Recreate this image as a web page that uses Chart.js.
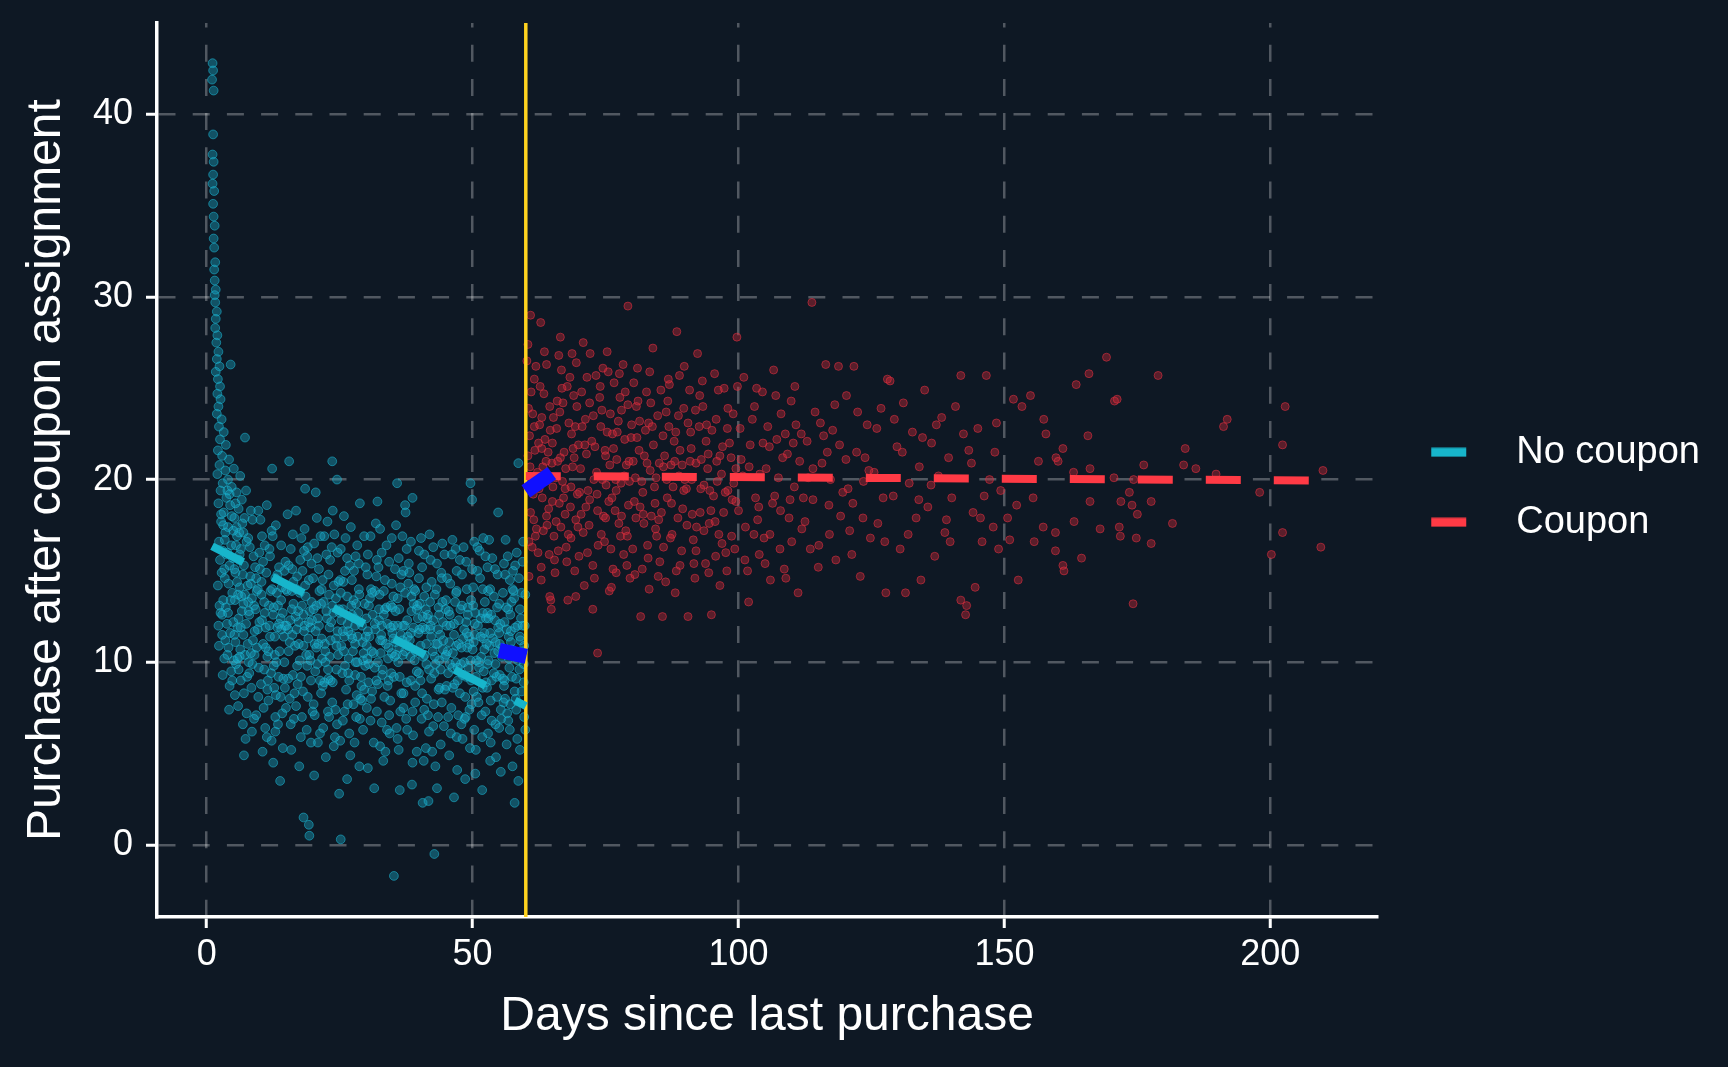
<!DOCTYPE html>
<html>
<head>
<meta charset="utf-8">
<title>Coupon discontinuity</title>
<script src="https://cdn.jsdelivr.net/npm/chart.js@4.4.1/dist/chart.umd.min.js"></script>
<style>
  html, body { margin: 0; padding: 0; background: #0e1824; }
  #wrap { width: 1728px; height: 1067px; }
</style>
</head>
<body>
<div id="wrap"><canvas id="rdd"></canvas></div>
<script>
// coupon is assigned from this many days on
var cutoff = 60;
var xTicks = [0, 50, 100, 150, 200];
var yTicks = [0, 10, 20, 30, 40];
var seriesNames = ['No coupon', 'Coupon'];

// [days since last purchase, purchase after coupon assignment]
var noCouponPoints = [
  [1.1,42.8],[1.2,42.4],[1.0,41.9],[1.3,41.3],[1.2,38.9],[1.1,37.8],[1.3,37.4],[1.2,36.7],[1.1,36.2],[1.4,35.8],
  [1.2,35.1],[1.3,34.4],[1.5,33.9],[1.3,33.2],[1.4,32.7],[1.6,31.9],[1.4,31.5],[1.5,30.9],[1.7,30.4],[1.5,30.1],
  [1.6,29.7],[1.9,29.2],[1.7,28.8],[1.6,28.3],[2.0,27.9],[1.8,27.5],[2.2,27.0],[1.9,26.6],[2.4,26.2],[1.7,25.9],
  [2.1,25.5],[2.5,25.1],[2.0,24.7],[2.6,24.4],[2.2,24.0],[1.9,23.6],[2.8,23.3],[2.3,22.9],[3.2,22.6],[2.5,22.2],
  [3.6,21.9],[2.1,21.6],[4.5,26.3],[7.2,22.3],
  [2.9,21.3],[4.2,21.1],[2.4,20.8],[3.5,20.5],[5.1,20.6],[2.0,20.3],[4.0,20.0],[6.3,20.2],[3.0,19.8],[4.7,19.6],
  [2.6,19.4],[5.6,19.3],[3.7,19.0],[7.4,19.4],[2.2,18.7],[4.4,18.6],[6.0,18.4],[3.2,18.2],[5.2,17.9],[8.3,18.3],
  [2.7,17.7],[4.0,17.4],[6.7,17.6],[3.5,17.1],[5.7,16.9],[2.3,16.6],[4.6,16.4],[7.8,16.8],[3.0,16.1],[6.2,15.9],
  [2.5,15.6],[4.3,15.3],[5.4,14.9],[3.4,14.6],[2.1,14.2],[4.8,13.8],[3.1,13.4],[2.6,12.7],[3.8,12.1],[2.9,11.5],
  [4.1,10.8],[3.3,10.2],[4.6,9.5],[4.3,8.7],[4.2,7.4],[5.3,8.2],[7.0,4.9],
  [5.3,13.4],[8.7,11.2],[6.1,15.6],[9.4,13.9],[7.2,10.4],[5.8,11.9],[8.1,16.3],[6.6,12.8],[9.8,9.7],[7.7,14.2],
  [5.5,9.9],[8.4,8.6],[6.9,17.1],[9.1,15.2],[7.4,12.1],[5.9,7.6],[8.9,13.1],[6.3,10.7],[9.6,11.8],[7.0,8.3],
  [5.2,15.1],[8.2,14.7],[6.5,13.6],[9.3,7.1],[7.9,10.0],[5.6,17.4],[8.6,17.8],[6.8,6.6],[9.9,16.0],[7.5,16.6],
  [6.0,12.4],[8.0,12.6],[9.0,10.4],[7.3,5.8],[5.4,11.1],[9.7,18.3],[6.4,9.0],[8.5,6.2],[7.8,13.3],[6.2,14.1],
  [10.4,12.3],[13.7,10.6],[11.2,14.9],[14.3,12.7],[12.1,9.4],[10.9,16.4],[13.2,13.8],[11.6,7.9],[14.8,15.5],[12.8,11.4],
  [10.2,8.8],[13.9,8.1],[11.8,12.0],[14.6,10.0],[12.4,16.9],[10.6,11.0],[13.4,6.6],[11.4,10.3],[14.1,14.1],[12.6,13.0],
  [10.3,14.4],[13.0,17.5],[11.0,6.4],[14.9,7.5],[12.2,5.7],[10.8,13.3],[13.6,15.2],[11.9,15.8],[14.4,9.1],[12.9,7.0],
  [10.1,17.8],[13.3,11.9],[11.5,9.0],[14.7,12.0],[12.3,20.6],[13.8,3.5],[12.5,4.5],[10.5,5.1],[11.3,18.6],[12.7,8.6],
  [15.3,11.8],[18.6,13.6],[16.2,9.3],[19.1,11.3],[17.0,14.7],[15.8,16.2],[18.1,8.4],[16.7,12.5],[19.7,15.4],[17.5,10.1],
  [15.1,13.9],[18.9,9.8],[16.4,6.9],[19.4,12.8],[17.8,16.8],[15.6,8.0],[18.3,11.7],[16.9,14.0],[19.9,7.3],[17.3,12.2],
  [15.4,10.6],[18.4,17.3],[16.1,15.1],[19.5,10.1],[17.7,5.9],[15.9,5.2],[18.8,6.3],[16.6,10.9],[19.2,14.5],[17.1,8.8],
  [15.2,18.1],[16.8,18.3],[18.0,15.0],[15.5,21.0],[18.5,19.5],[18.2,1.5],[19.2,1.1],[19.3,0.5],[17.4,4.3],[19.8,12.3],
  [20.3,11.0],[23.8,12.7],[21.2,13.9],[24.4,9.6],[22.1,8.9],[20.8,15.7],[23.1,11.9],[21.7,10.2],[24.8,14.4],[22.6,12.4],
  [20.1,7.7],[23.5,16.3],[21.4,16.9],[24.2,7.4],[22.9,14.8],[20.6,13.1],[23.3,9.0],[21.9,6.4],[24.6,11.7],[22.3,10.6],
  [20.4,9.5],[23.9,5.4],[21.1,12.0],[24.0,17.0],[22.7,17.7],[20.9,5.6],[23.6,7.8],[21.8,14.5],[24.9,12.9],[22.4,4.8],
  [20.2,3.8],[20.5,19.3],[23.7,18.3],[23.6,21.0],[24.5,20.0],[24.9,2.8],[21.5,8.3],[22.0,13.3],[20.7,17.9],[23.2,15.6],
  [25.6,12.9],[29.1,8.7],[27.3,14.5],[26.0,9.8],[28.4,11.4],[25.2,16.2],[29.7,13.2],[26.8,6.1],[28.0,15.8],[27.5,10.6],
  [25.9,7.3],[29.4,10.1],[26.4,13.6],[28.8,6.9],[27.1,17.4],[25.3,10.9],[29.9,15.2],[26.6,11.7],[28.2,8.2],[27.8,12.4],
  [25.7,14.4],[29.2,12.0],[26.2,8.5],[28.6,14.0],[27.0,4.9],[25.1,5.7],[29.6,16.9],[26.9,15.3],[28.3,10.0],[27.6,7.7],
  [26.4,3.6],[28.7,4.3],[25.2,0.3],[28.8,18.7],[25.8,18.0],[29.0,9.2],[27.2,11.5],[26.1,16.8],[28.5,12.7],[27.9,9.3],
  [30.5,13.1],[34.2,10.8],[32.0,15.6],[31.1,8.4],[33.5,12.9],[30.2,10.2],[34.8,14.3],[31.7,11.8],[32.9,6.7],[33.8,16.4],
  [30.8,16.9],[31.4,5.6],[32.4,12.3],[34.5,7.9],[33.1,9.6],[30.1,7.5],[31.9,14.7],[32.7,10.5],[34.0,12.1],[33.3,13.9],
  [30.6,11.4],[31.2,12.6],[32.2,8.8],[34.7,9.4],[33.6,5.1],[30.9,14.0],[31.6,9.7],[32.6,17.3],[34.3,15.5],[33.0,11.2],
  [30.3,4.2],[31.5,3.1],[32.1,18.8],[35.2,-1.7],[30.4,8.9],[34.9,11.6],[31.8,17.6],[33.9,6.3],[32.5,13.7],[33.2,4.6],
  [35.9,12.0],[39.5,9.5],[37.3,13.8],[36.4,7.3],[38.2,11.2],[35.4,15.1],[39.0,14.0],[36.9,10.4],[38.8,6.0],[37.6,16.2],
  [35.2,9.2],[38.5,12.8],[36.2,12.9],[39.8,11.6],[37.0,8.3],[35.7,6.4],[38.0,15.4],[36.6,14.8],[39.2,7.8],[37.8,10.9],
  [35.5,11.1],[39.6,13.1],[36.1,5.2],[38.4,9.0],[37.2,12.0],[35.1,13.6],[39.9,16.1],[36.8,16.9],[38.7,4.5],[37.5,6.9],
  [35.8,19.8],[38.7,19.0],[37.3,18.6],[37.4,18.2],[38.6,3.3],[36.3,3.0],[36.0,10.0],[39.3,10.6],[37.9,14.3],[35.6,17.5],
  [40.6,11.9],[44.4,12.2],[42.2,9.1],[41.3,14.1],[43.5,7.0],[40.2,9.0],[44.8,10.3],[41.8,6.2],[42.9,13.7],[43.1,11.0],
  [40.9,15.9],[41.0,10.4],[42.6,16.3],[44.1,14.9],[43.8,8.6],[40.4,6.9],[41.6,12.6],[42.4,5.1],[44.6,6.5],[43.3,15.4],
  [40.1,13.2],[41.4,8.0],[42.0,11.8],[44.0,9.6],[43.6,13.0],[40.8,4.6],[41.9,17.0],[42.7,7.7],[44.9,12.9],[43.0,4.3],
  [40.6,2.3],[41.7,2.4],[42.8,-0.5],[43.3,3.1],[40.3,16.8],[44.3,16.5],[41.2,5.3],[42.5,10.6],[43.9,11.5],[41.5,12.4],
  [45.7,12.6],[49.2,9.7],[47.0,13.9],[46.3,8.6],[48.4,11.8],[45.2,14.6],[49.7,13.4],[46.9,10.9],[48.1,5.8],[47.6,15.6],
  [45.4,9.4],[48.8,12.2],[46.5,11.5],[49.4,7.4],[47.3,7.1],[45.9,6.1],[48.0,14.8],[46.1,15.9],[49.0,10.8],[47.8,9.9],
  [45.3,10.6],[49.9,15.1],[46.7,13.3],[48.6,8.1],[47.4,11.0],[45.6,4.9],[49.5,5.3],[46.2,16.7],[48.3,16.3],[47.1,4.1],
  [46.5,2.6],[49.9,18.9],[49.6,19.8],[48.6,3.6],[45.1,12.0],[48.9,14.0],[47.2,9.0],[46.0,7.5],[49.3,11.4],[47.9,6.6],
  [50.4,11.5],[54.5,9.2],[52.3,13.3],[51.1,7.8],[53.2,10.9],[50.9,15.0],[54.0,13.6],[51.6,10.3],[52.9,6.1],[53.7,15.7],
  [50.2,8.4],[51.9,12.7],[52.6,11.0],[54.8,11.9],[53.4,7.9],[50.6,5.2],[51.4,14.6],[52.1,9.5],[54.3,6.6],[53.0,12.4],
  [50.1,13.1],[51.3,16.1],[52.8,15.2],[54.1,10.5],[53.6,9.0],[50.7,10.1],[51.8,5.9],[52.4,7.3],[54.7,14.8],[53.3,4.6],
  [51.8,3.0],[54.8,18.2],[53.1,16.7],[50.5,3.9],[52.0,16.8],[54.4,4.8],[51.0,12.0],[53.8,11.3],[50.3,16.6],[52.7,8.6],
  [55.6,10.8],[59.1,12.4],[57.4,9.2],[56.3,13.0],[58.2,7.4],[55.2,12.1],[59.6,8.9],[56.8,11.4],[58.7,14.6],[57.0,6.3],
  [55.9,15.4],[58.0,10.5],[56.1,8.0],[59.3,10.2],[57.7,13.9],[55.4,6.9],[58.5,12.0],[56.6,15.8],[59.9,13.7],[57.2,11.1],
  [55.1,9.3],[58.9,5.2],[56.4,5.5],[59.4,15.5],[57.9,8.4],[55.7,13.8],[58.3,16.0],[56.9,9.7],[59.7,7.0],[57.5,4.3],
  [57.9,2.3],[58.6,20.9],[55.3,4.0],[56.2,16.7],[58.6,3.5],[57.1,12.6],[59.0,11.2],[55.8,7.8],[57.6,15.0],[56.7,6.8],
  [3.9,16.0],[2.8,14.9],[4.9,15.7],[3.6,13.0],[5.0,12.2],[2.4,13.1],[4.4,11.6],[3.5,11.2],[5.5,16.4],[6.6,18.9],
  [4.7,18.0],[3.9,19.4],[6.1,17.1],[7.0,15.3],[5.9,13.7],[6.9,11.5],[7.6,9.2],[8.8,15.8],[9.2,12.9],[8.3,10.5],
  [11.7,13.1],[10.8,9.6],[12.5,12.6],[13.5,9.2],[14.5,11.4],[11.1,11.9],[12.9,14.6],[14.0,13.4],[10.7,7.5],[13.1,10.0],
  [16.0,12.9],[17.3,11.0],[18.7,10.4],[15.7,12.3],[16.5,8.3],[17.9,13.1],[19.6,9.0],[18.2,12.6],[16.3,14.4],[19.0,16.3],
  [21.6,11.3],[22.8,9.6],[24.3,13.5],[20.6,10.8],[23.4,12.2],[21.3,9.0],[22.5,15.9],[24.7,10.4],[20.0,14.6],[23.0,7.0],
  [26.7,10.2],[28.1,13.2],[29.3,11.1],[25.5,9.4],[27.6,13.4],[26.5,12.1],[28.9,8.0],[25.0,12.7],[27.7,15.0],[29.8,9.8],
  [31.0,10.6],[32.9,12.0],[34.1,10.2],[30.5,9.9],[33.4,8.1],[31.6,13.9],[32.2,10.0],[34.6,13.1],[30.0,12.4],[33.7,11.0],
  [36.5,11.5],[38.3,10.3],[39.7,12.4],[35.3,10.3],[37.7,12.3],[36.3,9.2],[38.9,13.2],[37.0,15.0],[35.1,12.0],[39.2,8.7],
  [41.2,12.9],[42.2,11.4],[43.7,10.1],[40.7,10.3],[42.6,12.3],[41.8,9.6],[44.5,11.2],[43.2,14.0],[40.0,11.8],[44.2,7.8],
  [46.8,10.0],[48.2,11.3],[49.6,10.1],[45.6,11.1],[47.7,12.9],[46.2,9.7],[48.8,9.2],[47.0,15.0],[45.0,13.4],[49.1,12.6],
  [51.5,11.4],[53.0,10.1],[54.2,12.3],[50.6,9.2],[52.8,12.7],[51.9,8.6],[54.6,8.1],[53.3,14.0],[50.0,10.7],[52.2,11.6],
  [56.5,10.5],[58.0,11.9],[59.5,10.6],[55.5,10.3],[57.3,13.3],[56.0,9.0],[58.8,9.6],[57.0,14.5],[55.0,11.6],[59.2,13.8],
  [2.3,10.9],[3.0,9.3],[3.7,15.9],[4.5,13.4],[5.1,10.1],[5.7,14.4],[6.4,11.9],[7.1,17.9],[7.9,12.8],[8.6,9.9],
  [9.3,14.6],[9.9,12.2],[10.6,15.5],[11.4,8.5],[12.0,13.9],[12.8,10.4],[13.6,12.1],[14.2,7.2],[14.9,14.0],[15.6,11.1],
  [16.3,13.2],[17.0,9.8],[17.6,15.6],[18.4,12.0],[19.0,8.1],[19.7,13.3],[20.5,11.7],[21.1,15.1],[21.8,8.7],[22.5,12.8],
  [23.1,10.3],[23.9,14.2],[24.5,6.6],[25.3,12.3],[26.0,15.0],[26.8,9.0],[27.4,11.3],[28.1,7.0],[28.7,13.7],[29.5,10.5],
  [30.2,14.8],[30.9,8.0],[31.6,12.1],[32.3,15.2],[33.0,9.3],[33.8,13.0],[34.4,6.1],[35.1,11.3],[35.9,13.5],[36.6,8.3],
  [37.3,10.6],[38.1,14.9],[38.7,7.3],[39.5,12.9],[40.2,10.9],[40.9,13.6],[41.6,7.1],[42.3,14.4],[43.0,9.9],[43.7,12.6],
  [44.4,10.7],[45.1,8.7],[45.8,14.3],[46.5,12.1],[47.2,9.7],[48.0,13.1],[48.7,7.0],[49.4,11.0],[50.1,14.1],[50.8,8.1],
  [51.5,12.4],[52.2,10.7],[52.9,13.9],[53.6,6.8],[54.3,11.1],[55.0,13.2],[55.7,9.1],[56.4,11.8],[57.1,7.7],[57.8,13.5],
  [58.5,10.1],[59.2,8.4],[59.8,12.0],
  [2.7,18.1],[3.3,15.1],[4.0,12.7],[4.8,9.0],[5.4,18.7],[6.2,10.3],[6.9,13.2],[7.5,7.2],[8.3,14.3],[9.0,11.7],
  [9.7,8.1],[10.3,13.7],[11.1,10.8],[11.8,16.2],[12.6,9.8],[13.3,14.8],[14.0,11.8],[14.7,8.6],[15.4,15.3],[16.1,11.5],
  [16.8,7.6],[17.5,13.8],[18.2,10.9],[18.9,15.8],[19.5,11.9],[20.3,7.1],[20.9,12.4],[21.6,14.0],[22.3,10.0],[23.0,13.7],
  [23.7,8.9],[24.3,11.3],[25.1,14.5],[25.8,10.6],[26.5,7.7],[27.2,13.1],[27.9,11.0],[28.6,15.4],[29.2,7.9],[29.9,11.4],
  [30.7,13.5],[31.4,10.5],[32.0,7.3],[32.8,11.5],[33.5,14.5],[34.2,9.0],[34.9,13.0],[35.6,10.4],[36.4,14.1],[37.0,7.5],
  [37.8,11.4],[38.5,13.6],[39.1,10.1],[39.9,14.6],[40.5,8.3],[41.3,11.0],[42.0,13.3],[42.8,9.4],[43.5,11.8],[44.2,14.6],
  [44.8,8.5],[45.5,12.8],[46.3,10.5],[46.9,13.8],[47.6,8.3],[48.4,10.0],[49.1,13.0],[49.8,7.7],[50.5,12.7],[51.2,10.0],
  [51.9,14.0],[52.5,8.9],[53.3,11.6],[54.0,9.4],[54.6,13.0],[55.3,7.4],[56.0,12.2],[56.8,10.2],[57.5,14.0],[58.2,9.1],
  [58.9,12.9],[59.6,9.9],
  [2.2,12.0],[3.4,16.7],[4.1,14.3],[5.2,11.5],[6.0,9.6],[6.8,14.8],[7.7,11.0],[8.5,13.5],[9.4,10.8],[10.0,15.1],
  [10.9,12.7],[11.6,10.6],[12.3,14.0],[13.0,8.2],[13.9,12.4],[14.6,15.0],[15.3,9.1],[16.0,13.9],[16.9,11.8],[17.7,9.2],
  [18.5,14.2],[19.3,10.4],[20.1,12.9],[20.8,9.9],[21.5,13.2],[22.2,11.0],[22.9,9.1],[23.6,13.1],[24.4,10.9],[25.2,13.8],
  [25.9,11.4],[26.6,9.4],[27.3,12.6],[28.0,10.0],[28.8,12.2],[29.6,8.5],[30.3,11.7],[31.1,13.8],[31.9,9.0],[32.6,11.2],
  [33.3,12.6],[34.0,8.7],[34.8,10.5],[35.5,12.8],[36.2,10.8],[36.9,12.0],[37.6,8.9],[38.4,11.6],[39.2,13.9],[39.9,9.4],
  [40.6,12.5],[41.3,9.9],[42.1,12.0],[42.9,10.3],[43.6,8.5],[44.3,13.3],[45.0,10.4],[45.8,12.0],[46.6,8.8],[47.4,12.3],
  [48.1,9.3],[48.9,11.6],[49.7,9.0],[50.4,12.1],[51.2,9.7],[52.0,11.3],[52.8,9.9],[53.5,12.6],[54.3,9.9],[55.1,11.0],
  [55.9,8.7],[56.7,12.9],[57.4,10.7],[58.1,8.0],[58.9,11.4],[59.7,10.9],
  [3.1,17.5],[4.3,19.2],[5.0,17.2],[6.4,16.2],[2.9,12.6],[3.9,10.4],[5.8,10.2],[7.2,13.7],[8.0,9.4],[9.6,14.0],
  [11.9,11.4],[13.4,13.1],[15.0,12.0],[17.2,12.8],[19.2,12.2],[21.0,11.0],[23.3,11.2],[25.6,11.7],[27.9,12.0],[30.1,10.9],
  [32.4,12.9],[34.6,11.9],[36.8,11.2],[38.9,11.9],[41.1,11.8],[43.4,11.0],[45.7,9.9],[47.9,10.8],[50.2,11.1],[52.5,12.4],
  [54.8,10.6],[57.2,11.7],[59.4,12.0],
  [8.9,6.9],[11.3,5.9],[12.9,6.2],[14.3,5.3],[15.8,6.6],[17.9,7.0],[19.6,5.6],[21.3,6.1],[22.8,7.3],[24.1,5.9],
  [25.6,6.8],[27.8,5.6],[29.4,6.3],[30.8,6.8],[32.6,5.4],[34.3,7.1],[35.9,5.8],[37.7,6.3],[39.5,5.1],[40.9,7.4],
  [42.6,6.5],[44.0,5.5],[45.4,7.0],[47.0,5.9],[48.5,6.9],[50.3,6.3],[51.7,7.1],[53.4,5.6],[55.0,6.4],[56.5,7.2],
  [58.4,5.8],[59.9,6.3],
  [10.4,16.9],[12.2,17.2],[14.0,16.4],[16.2,17.0],[18.3,16.1],[20.2,16.5],[22.1,16.9],[24.6,16.0],[26.4,15.7],[28.3,16.4],
  [30.3,15.9],[32.9,16.0],[34.8,16.8],[36.1,15.7],[38.4,16.6],[40.5,15.2],[42.1,15.6],[44.7,15.9],[46.8,16.2],[48.8,15.5],
  [50.9,16.3],[52.4,15.8],[54.2,15.1],[56.1,14.8],[58.0,15.3],[59.5,16.6]
];

var couponPoints = [
  [60.4,21.3],[60.9,18.2],[61.3,23.6],[61.8,16.9],[62.2,20.4],[62.7,25.1],[63.1,19.0],[63.6,22.2],[64.0,17.5],[64.5,24.0],
  [64.9,20.9],[65.4,15.6],[65.8,22.8],[66.3,18.7],[66.7,26.0],[67.2,21.5],[67.6,16.3],[68.1,23.1],[68.5,19.6],[69.0,24.6],
  [69.4,17.8],[69.9,21.9],[60.2,26.5],[60.6,14.7],[61.1,20.0],[61.6,22.9],[62.0,17.3],[62.5,19.5],[62.9,15.2],[63.4,24.7],
  [63.8,21.0],[64.3,18.4],[64.7,13.4],[65.2,23.4],[65.6,20.1],[66.1,16.1],[66.5,21.2],[67.0,24.2],[67.4,18.1],[67.9,13.4],
  [68.3,25.6],[68.8,20.7],[69.2,15.0],[69.7,19.2],[60.9,29.0],[62.8,28.6],[66.5,27.8],[64.5,13.6],[61.5,17.8],[63.0,21.7],
  [65.0,18.8],[66.9,19.9],[68.6,22.5],[69.5,26.4],[60.5,23.9],
  [70.3,20.6],[70.8,17.1],[71.2,23.3],[71.7,19.4],[72.1,26.9],[72.6,15.3],[73.0,21.8],[73.5,18.3],[73.9,24.5],[74.4,20.0],
  [74.8,16.6],[75.3,22.6],[75.7,13.9],[76.2,19.0],[76.6,25.3],[77.1,21.1],[77.5,17.6],[78.0,23.8],[78.4,15.9],[78.9,20.8],
  [79.3,18.6],[79.8,22.3],[70.5,24.8],[71.0,14.2],[71.4,21.4],[72.0,18.9],[72.6,12.9],[73.2,25.7],[73.5,10.5],[74.1,22.9],
  [74.6,18.0],[75.1,19.7],[75.5,25.9],[76.0,16.2],[76.5,21.7],[77.0,14.9],[77.4,23.2],[77.9,19.8],[78.3,26.3],[78.8,17.2],
  [79.2,24.1],[79.6,14.6],[76.8,18.3],[79.2,29.5],
  [80.2,21.0],[80.7,17.9],[81.1,24.3],[81.6,12.5],[82.0,19.3],[82.5,22.7],[82.9,16.4],[83.4,20.5],[83.9,27.2],[84.3,18.7],
  [84.8,23.5],[85.2,15.5],[85.7,12.5],[86.1,21.3],[86.6,19.0],[87.0,25.2],[87.5,17.0],[87.9,22.1],[88.4,28.1],[88.8,20.2],
  [89.3,16.1],[89.7,23.9],[80.5,14.8],[81.0,26.1],[81.8,19.9],[82.7,24.8],[83.2,14.0],[84.0,21.9],[84.6,16.9],[85.4,24.9],
  [86.3,14.4],[86.9,22.9],[87.7,19.6],[88.1,13.8],[88.9,25.7],[89.5,18.4],[80.9,22.3],[83.6,18.0],[85.9,20.7],[89.0,21.6],
  [90.2,19.5],[90.5,12.5],[91.0,22.6],[91.5,16.7],[92.0,20.9],[92.3,26.9],[92.8,18.2],[93.3,24.0],[93.8,15.4],[94.3,21.4],
  [94.9,12.6],[95.3,19.1],[95.8,23.3],[96.3,17.0],[96.8,20.3],[97.3,25.0],[97.8,15.0],[98.3,22.0],[98.8,18.9],[99.3,16.2],
  [99.7,27.8],[90.8,24.9],[91.8,14.6],[92.6,22.9],[93.5,19.7],[94.5,17.6],[95.5,25.8],[96.5,14.2],[97.0,21.8],[98.0,19.4],
  [99.0,23.6],[99.5,20.6],[91.3,18.1],[94.0,23.0],[96.0,19.9],
  [100.5,21.1],[101.3,17.4],[101.9,13.3],[102.6,23.3],[103.2,19.0],[103.9,15.9],[104.5,24.8],[105.2,20.6],[105.9,17.0],[106.6,26.0],
  [107.2,22.2],[107.9,18.3],[108.6,15.1],[109.2,21.4],[109.9,24.3],[110.5,19.6],[111.2,13.8],[111.8,22.5],[112.5,17.7],[113.1,20.1],
  [113.8,29.7],[114.4,23.7],[115.1,16.4],[115.7,20.9],[116.4,26.3],[117.0,18.6],[117.7,22.7],[118.3,15.6],[118.8,26.2],[119.6,19.3],
  [120.3,24.6],[120.9,17.2],[121.7,26.2],[122.2,21.5],[122.9,14.7],[123.5,19.9],[124.2,23.0],[124.8,16.8],[101.0,25.6],[104.0,20.3],
  [106.0,14.5],[108.0,23.6],[110.0,16.6],[114.0,18.9],[119.0,21.9],
  [125.5,20.4],[126.2,17.6],[126.8,23.9],[127.7,13.8],[128.0,25.5],[128.5,25.4],[129.1,19.1],[129.8,21.8],[130.4,16.2],[131.0,24.2],
  [131.4,13.8],[132.1,19.8],[132.7,22.6],[133.4,17.9],[134.0,20.7],[134.3,14.5],[135.0,24.9],[135.6,18.5],[136.3,22.0],[136.9,15.8],
  [137.6,20.2],[138.2,23.4],[138.8,17.1],[139.5,21.2],[140.1,19.0],[140.8,24.0],[141.8,13.4],[141.8,25.7],[142.7,12.6],[142.9,13.1],
  [143.3,21.6],[144.5,14.1],[144.1,18.2],[145.0,22.8],[145.8,16.6],[146.6,25.7],[147.2,20.0],[147.9,17.4],[148.5,23.1],[149.3,19.4],
  [150.6,17.9],[151.0,16.7],[151.7,24.4],[152.3,18.6],[152.6,14.5],[153.3,24.0],[154.9,24.6],[155.4,19.0],[155.6,16.6],[156.4,21.0],
  [157.3,17.4],[157.4,23.3],[157.8,22.5],[159.6,17.1],[159.6,16.1],[159.7,21.2],[160.1,21.0],[161.0,15.3],[161.0,21.7],[161.2,15.0],
  [163.0,20.4],[163.1,17.7],[163.5,25.2],[164.5,15.7],[165.7,22.4],[165.9,25.8],[166.1,20.6],[166.1,18.8],[168.0,17.3],[169.2,26.7],
  [170.6,20.1],[170.7,24.3],[171.2,24.4],[171.6,17.4],[171.8,16.9],[171.9,18.8],[173.5,19.3],[174.0,18.6],[174.2,13.2],[174.3,20.0],
  [174.8,16.8],[175.0,18.1],[176.2,20.8],[177.6,18.8],[177.6,16.5],[178.9,25.7],[181.6,17.6],[183.7,20.8],[184.0,21.7],[186.0,20.6],
  [189.8,20.3],[191.2,22.9],[191.9,23.3],[198.0,19.3],[200.2,15.9],[202.3,21.9],[202.3,17.1],[202.8,24.0],[209.5,16.3],[209.9,20.5],
  [60.8,20.7],[61.4,19.2],[62.4,22.0],[63.3,17.2],[64.2,21.5],[65.1,19.6],[65.9,24.3],[66.6,17.4],[67.5,20.6],[68.4,18.5],
  [69.3,22.9],[70.1,19.3],[71.6,16.0],[72.4,22.1],[73.3,20.4],[74.2,17.0],[75.0,21.3],[75.9,23.6],[76.9,20.0],[77.8,16.9],
  [78.6,22.2],[79.5,19.9],[80.4,18.8],[81.3,21.6],[82.2,17.6],[83.1,23.1],[84.5,20.1],[85.5,18.2],[86.4,23.7],[87.3,20.8],
  [88.6,17.9],[89.9,20.0],[90.9,21.0],[92.1,17.4],[93.0,21.1],[94.6,19.4],[95.6,17.7],[97.5,19.3],[98.6,21.2],[100.0,18.3],
  [102.2,21.9],[103.6,17.8],[105.5,22.9],[107.5,20.1],[109.5,17.9],[111.5,21.0],[113.5,16.2],[115.4,23.1],[117.3,20.0],[121.5,18.7],
  [123.8,21.2],[127.2,19.0],[130.8,21.5],[133.9,18.9],[137.2,23.0],[139.1,17.8],[143.8,20.9],[146.2,19.1],[148.9,16.2],[61.9,26.2],
  [60.3,19.6],[61.0,24.8],[61.7,21.6],[62.3,16.0],[63.0,23.4],[63.7,19.9],[64.4,15.9],[65.0,22.0],[65.7,17.7],[66.4,23.7],
  [67.1,19.0],[67.8,25.1],[68.5,16.8],[69.1,21.2],[69.8,17.4],[70.6,22.9],[71.3,18.5],[72.0,24.2],[72.8,20.0],[73.6,16.4],
  [74.3,23.8],[75.0,17.9],[75.8,20.8],[76.4,15.1],[77.2,22.6],[78.0,18.0],[78.7,24.8],[79.4,21.0],[80.1,16.2],[80.8,24.0],
  [81.5,18.5],[82.3,21.3],[83.0,15.7],[83.8,22.9],[84.4,17.3],[85.1,20.9],[85.9,16.3],[86.7,24.3],[87.4,18.7],[88.2,22.6],
  [89.0,15.3],[89.7,19.4],[90.5,23.1],[91.2,20.0],[92.0,16.1],[92.7,24.6],[93.5,17.2],[94.2,20.6],[95.0,22.7],[95.7,15.8],
  [96.5,21.3],[97.2,18.2],[98.0,23.9],[98.7,16.9],[99.5,18.8],[100.3,22.8],[101.2,15.6],[102.0,20.7],[103.0,24.0],[103.8,18.5],
  [104.8,16.8],[105.8,21.8],[106.8,19.1],[107.8,16.2],[108.8,22.5],[109.7,18.9],[110.8,23.0],[111.9,17.3],[112.9,22.1],[114.0,20.6],
  [115.0,15.2],[116.0,22.4],[117.1,17.0],[118.1,24.1],[119.2,18.0],[120.2,21.1],[121.3,15.9],[122.4,23.7],[123.4,17.9],[124.5,20.5],
  [126.0,22.8],[127.5,16.6],[129.3,23.3],[131.9,17.0],[134.6,22.3],[136.2,19.7],[139.8,16.6],[142.3,22.5],[145.5,17.9],[148.2,21.5],
  [60.7,22.4],[61.2,16.3],[61.9,19.8],[62.6,23.0],[63.2,20.7],[63.9,18.0],[64.6,22.7],[65.3,16.9],[66.0,21.0],[66.8,25.0],
  [67.4,19.5],[68.0,17.0],[68.9,21.7],[69.6,24.0],[70.4,18.1],[71.1,21.9],[71.9,17.5],[72.7,23.5],[73.4,19.2],[74.0,25.1],
  [74.9,21.6],[75.6,18.8],[76.3,22.5],[77.0,19.4],[77.7,24.5],[78.5,20.2],[79.1,16.9],[79.9,23.0],[80.6,20.1],[81.4,23.2],
  [82.1,18.1],[82.8,20.9],[83.5,24.2],[84.2,19.6],[85.0,17.8],[85.8,22.4],[86.5,20.0],[87.2,16.8],[88.0,21.0],[88.7,23.5],
  [89.4,20.8],[90.3,17.5],[91.1,21.7],[91.9,23.8],[92.9,19.5],[93.9,22.1],[94.8,18.3],[95.9,21.0],[96.9,16.5],[97.9,22.8],
  [99.1,19.8],[100.8,20.2],[102.9,17.0],[104.6,22.0],[106.4,18.7],[108.3,21.2],[110.3,22.0],[112.2,19.0],[116.7,21.5],[120.6,19.5],
  [60.6,16.6],[61.6,25.5],[62.9,14.5],[63.9,26.3],[65.5,14.9],[66.2,26.8],[67.7,15.5],[68.7,26.9],[70.0,15.8],[71.5,25.6],
  [72.9,14.6],[74.5,26.1],[76.1,14.1],[77.6,25.8],[79.0,15.3],[80.3,25.3],[81.9,15.1],[83.3,25.9],[84.9,14.7],[86.8,25.5],
  [88.3,15.0],[89.8,26.2],[91.6,15.4],[93.2,25.4],[94.4,14.9],[96.2,24.9],[97.6,16.0],[99.8,25.1],[101.7,15.0],[103.4,25.0],
  [105.0,15.4],[107.0,24.6],[108.9,14.6],[110.6,25.1],[60.4,27.4],[63.5,27.0],[70.8,27.5],[75.3,27.0],[64.8,12.9],[69.4,13.6]
];

// fitted lines either side of the cut-off
var noCouponFit = [[1, 16.35], [60, 7.6]];
var couponFit = [[60, 20.2], [209, 19.95]];
// thick markers at the jump
var jumpLow = [[55, 10.65], [60.1, 10.32]];
var jumpHigh = [[60, 19.35], [64.9, 20.35]];

var xMin = -9.35, xMax = 220.1, yMin = -3.95, yMax = 45.0;

var white = '#ffffff';
var cyan = '#17b5cb';
var red = '#ff3a45';
var blue = '#1010ff';
var gold = '#ffd21f';
var gridColor = 'rgba(255,255,255,0.28)';
var fontFamily = '"Liberation Sans", Arial, Helvetica, sans-serif';

Chart.defaults.font.family = fontFamily;
Chart.defaults.color = white;

function toXY(arr) {
  return arr.map(function (p) { return {x: p[0], y: p[1]}; });
}

// legend key: short thick bar with some room on both sides
function legendKey(color) {
  var c = document.createElement('canvas');
  c.width = 88;
  c.height = 10;
  var g = c.getContext('2d');
  g.fillStyle = color;
  g.fillRect(22, 0.5, 35, 9);
  return c;
}

function lineSet(label, pts, color, width, dash, order) {
  return {
    label: label,
    data: toXY(pts),
    showLine: true,
    borderColor: color,
    backgroundColor: color,
    borderWidth: width,
    borderDash: dash,
    borderCapStyle: 'butt',
    pointRadius: 0,
    pointStyle: legendKey(color),
    order: order
  };
}

// y labels sit well inside the panel, so no extra room above/below
function noPad(s) {
  s.paddingTop = 0;
  s.paddingBottom = 0;
}

new Chart(document.getElementById('rdd'), {
  type: 'scatter',
  data: {
    datasets: [
      lineSet(seriesNames[0], noCouponFit, cyan, 8, [35, 33], 1),
      lineSet(seriesNames[1], couponFit, red, 8, [35, 33], 1),
      lineSet('', jumpLow, blue, 15, [], 0),
      lineSet('', jumpHigh, blue, 15, [], 0),
      lineSet('', [[cutoff, yMin], [cutoff, yMax]], gold, 3.5, [], 2),
      {
        label: '',
        data: toXY(noCouponPoints),
        pointRadius: 4.4,
        borderWidth: 1,
        backgroundColor: 'rgba(24,170,200,0.40)',
        borderColor: 'rgba(30,185,215,0.55)',
        order: 3
      },
      {
        label: '',
        data: toXY(couponPoints),
        pointRadius: 4.0,
        borderWidth: 1,
        backgroundColor: 'rgba(205,40,56,0.40)',
        borderColor: 'rgba(230,50,66,0.55)',
        order: 3
      }
    ]
  },
  options: {
    responsive: true,
    maintainAspectRatio: false,
    animation: false,
    events: [],
    layout: { padding: { top: 23, right: 18, bottom: 0, left: 0 } },
    plugins: {
      tooltip: { enabled: false },
      legend: {
        position: 'right',
        align: 'center',
        fullSize: false,
        title: { display: true, text: '', padding: 0, font: { size: 20, lineHeight: 1.72 } },
        labels: {
          usePointStyle: true,
          pointStyleWidth: 88,
          padding: 32,
          color: white,
          font: { size: 38 },
          filter: function (item) { return seriesNames.indexOf(item.text) >= 0; }
        }
      }
    },
    scales: {
      x: {
        type: 'linear',
        min: xMin,
        max: xMax,
        afterBuildTicks: function (s) { s.ticks = xTicks.map(function (v) { return {value: v}; }); },
        afterFit: function (s) { s.height = 150; },
        ticks: { color: white, font: { size: 36 }, padding: 5, maxRotation: 0, autoSkip: false },
        grid: { color: gridColor, lineWidth: 2.5, tickLength: 11, tickWidth: 3, tickColor: white, tickBorderDash: [] },
        border: { display: true, color: white, width: 3.5, dash: [17, 17.2], dashOffset: 12.5 },
        title: {
          display: true, text: 'Days since last purchase', color: white,
          font: { size: 48 }, padding: { top: 0, bottom: 21 }
        }
      },
      y: {
        type: 'linear',
        min: yMin,
        max: yMax,
        afterBuildTicks: function (s) { s.ticks = yTicks.map(function (v) { return {value: v}; }); },
        afterFit: function (s) { s.width = 157; noPad(s); },
        ticks: { color: white, font: { size: 36 }, padding: 13 },
        grid: { color: gridColor, lineWidth: 2.5, tickLength: 11, tickWidth: 3, tickColor: white, tickBorderDash: [] },
        border: { display: true, color: white, width: 3.5, dash: [17, 17.2], dashOffset: 0 },
        title: {
          display: true, text: 'Purchase after coupon assignment', color: white,
          font: { size: 48 }, padding: { top: 18, bottom: 0 }
        }
      }
    }
  }
});
</script>
</body>
</html>
